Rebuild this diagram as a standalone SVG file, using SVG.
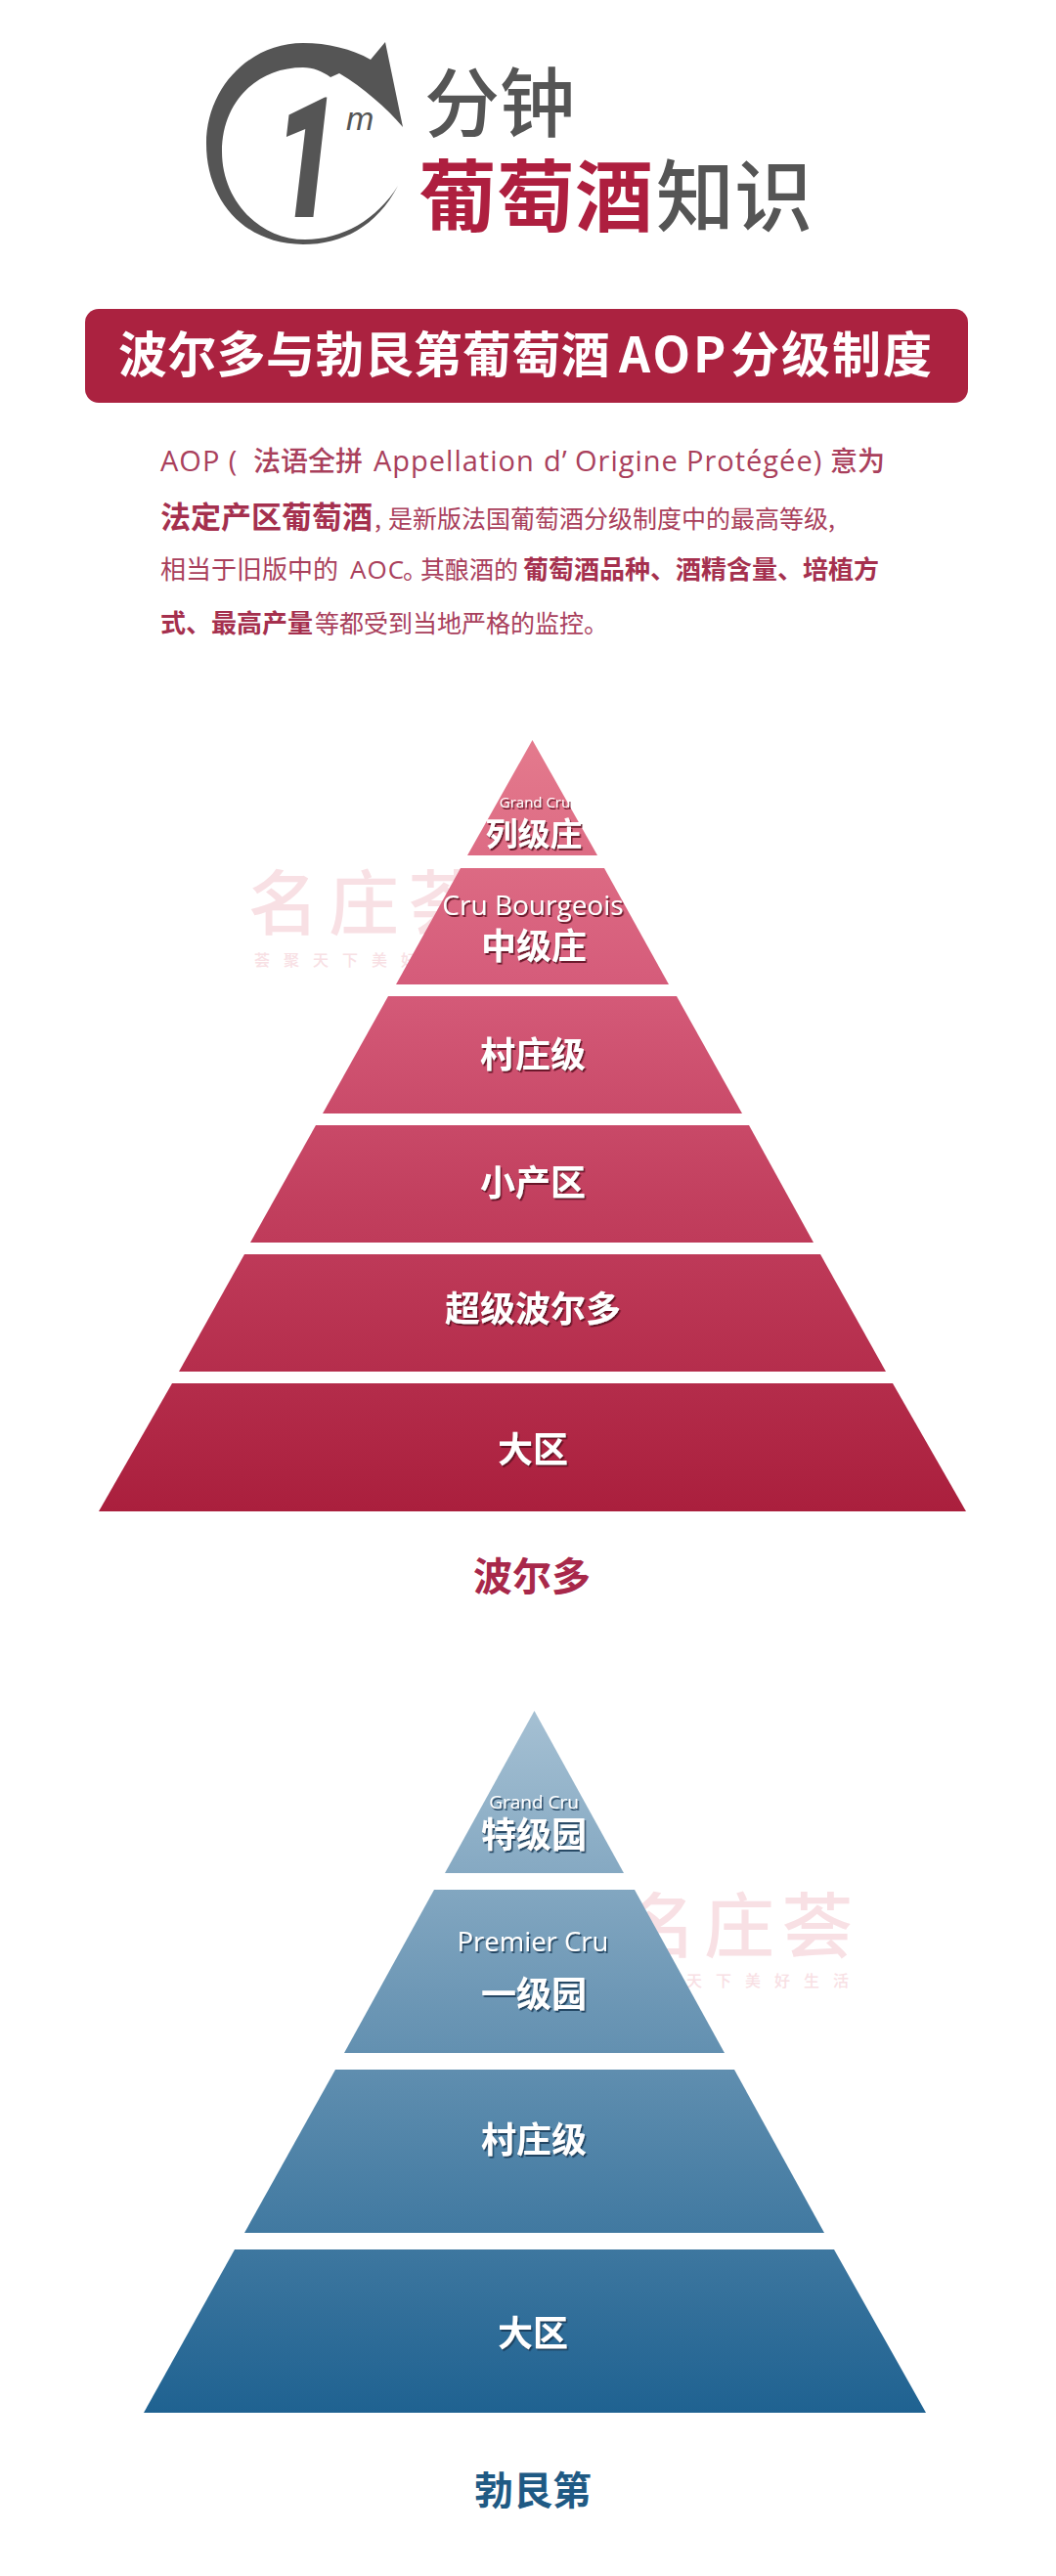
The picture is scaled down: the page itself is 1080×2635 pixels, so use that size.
<svg xmlns="http://www.w3.org/2000/svg" width="1080" height="2635" viewBox="0 0 1080 2635">
<defs>
<linearGradient id="red" gradientUnits="userSpaceOnUse" x1="0" y1="757" x2="0" y2="1546"><stop offset="0" stop-color="#e47a8d"/><stop offset="0.3" stop-color="#d65d7b"/><stop offset="0.6" stop-color="#c23f5e"/><stop offset="1" stop-color="#aa1f3d"/></linearGradient>
<linearGradient id="blue" gradientUnits="userSpaceOnUse" x1="0" y1="1750" x2="0" y2="2468"><stop offset="0" stop-color="#a5c0d3"/><stop offset="0.4" stop-color="#6e98b6"/><stop offset="1" stop-color="#1f6291"/></linearGradient>
<filter id="sr" x="-20%" y="-20%" width="140%" height="140%"><feDropShadow dx="1.5" dy="2" stdDeviation="0.6" flood-color="#5a0a20" flood-opacity="0.85"/></filter>
<filter id="sb" x="-20%" y="-20%" width="140%" height="140%"><feDropShadow dx="1.5" dy="2" stdDeviation="0.6" flood-color="#123a55" flood-opacity="0.85"/></filter>
</defs>
<style>
text{font-family:"Noto Sans CJK SC","Noto Sans",sans-serif}
.lab{fill:#fff;font-weight:700;text-anchor:middle}
.lab.lat{font-family:"Open Sans","Noto Sans CJK SC",sans-serif;font-weight:400}
.red .lab{filter:url(#sr)}
.blue .lab{filter:url(#sb)}
.wm{fill:#f8e0e4;text-anchor:start;font-weight:500}
.body{fill:#a9405c;font-size:25px}
.l{font-family:"Open Sans",sans-serif;font-size:29px;letter-spacing:1px;font-weight:500}
.s{font-family:"Open Sans",sans-serif;font-weight:500;letter-spacing:1px;font-size:26px}
.z{font-size:28px;font-weight:500}
.em{font-weight:700;fill:#a5304e}
.grey{fill:#555}
.r{fill:#ae1f3f;font-weight:700}
.red polygon{fill:url(#red)}
.blue polygon{fill:url(#blue)}
</style>
<rect width="1080" height="2635" fill="#fff"/>
<g id="logo">
<path fill="#555" d="M407 190C385 232 350 250 310 250C250 250 211 205 211 147C211 90 255 44 310 44C335 44 360 50 379 61L394 43L412 130C395 110 372 90 347 75L338 79C330 73 320 69 310 69C262 69 227 105 227 155C227 205 265 245 312 245C350 245 385 225 407 190Z"/>
<text transform="translate(280 222) scale(0.68 1)" font-size="172" font-weight="900" font-style="italic" class="grey" style="font-family:Roboto,sans-serif">1</text>
<text x="354" y="133" font-size="34" font-style="italic" class="grey" style="font-family:'Liberation Sans',sans-serif">m</text>
<text x="434" y="134" font-size="77" font-weight="500" class="grey">分钟</text>
<text x="428" y="230" font-size="80" class="r">葡萄酒</text>
<text x="671" y="230" font-size="80" font-weight="500" class="grey">知识</text>
</g>
<g id="banner">
<rect x="87" y="316" width="903" height="96" rx="14" fill="#ab2240"/>
<text y="381" font-size="50" font-weight="700" fill="#fff"><tspan x="121" letter-spacing="0.3">波尔多与勃艮第葡萄酒</tspan><tspan x="633" letter-spacing="3">AOP</tspan><tspan x="747" letter-spacing="2">分级制度</tspan></text>
</g>
<g id="intro">
<text class="body" y="482"><tspan class="l" x="164">AOP (</tspan><tspan class="z" x="259">法语全拼</tspan><tspan class="l" x="382">Appellation</tspan><tspan class="l" x="556">d’</tspan><tspan class="l" x="588">Origine</tspan><tspan class="l" x="702">Protégée)</tspan><tspan class="z" x="849">意为</tspan></text>
<text class="body" y="540"><tspan class="em" x="164" font-size="31">法定产区葡萄酒</tspan><tspan x="383">,</tspan><tspan x="397">是新版法国葡萄酒分级制度中的最高等级,</tspan></text>
<text class="body" y="592"><tspan x="164" font-size="26">相当于旧版中的</tspan><tspan class="s" x="358">AOC</tspan><tspan x="412">。</tspan><tspan x="430">其酿酒的</tspan><tspan class="em" x="535" font-size="26">葡萄酒品种、酒精含量、培植方</tspan></text>
<text class="body" y="647"><tspan class="em" x="164" font-size="26">式、最高产量</tspan><tspan x="322">等都受到当地严格的监控。</tspan></text>
</g>
<g id="watermark-1">
<text class="wm" x="254" y="950" font-size="72" letter-spacing="10">名庄荟</text>
<text class="wm" x="260" y="988" font-size="16" letter-spacing="14">荟聚天下美好生活</text>
</g>
<g id="watermark-2">
<text class="wm" x="640" y="1996" font-size="72" letter-spacing="8">名庄荟</text>
<text class="wm" x="642" y="2032" font-size="16" letter-spacing="14">荟聚天下美好生活</text>
</g>
<g id="bordeaux" class="red">
<g id="b1"><polygon points="544.5,757 611,875 478,875"/><text class="lab lat" x="547" y="826" font-size="15">Grand Cru</text><text class="lab" x="546" y="865" font-size="33">列级庄</text></g>
<g id="b2"><polygon points="471,888 618,888 684,1007 405,1007"/><text class="lab lat" x="545" y="936" font-size="28">Cru Bourgeois</text><text class="lab" x="546" y="981" font-size="36">中级庄</text></g>
<g id="b3"><polygon points="397,1019 692,1019 759,1139 330,1139"/><text class="lab" x="545" y="1092" font-size="36">村庄级</text></g>
<g id="b4"><polygon points="323,1151 766,1151 832,1271 256,1271"/><text class="lab" x="545" y="1223" font-size="36">小产区</text></g>
<g id="b5"><polygon points="250,1283 839,1283 906,1403 183,1403"/><text class="lab" x="545" y="1352" font-size="36">超级波尔多</text></g>
<g id="b6"><polygon points="176,1415 913,1415 988,1546 101,1546"/><text class="lab" x="545" y="1496" font-size="36">大区</text></g>
</g>
<text id="bordeaux-title" x="544" y="1627" font-size="40" font-weight="700" fill="#a8284a" text-anchor="middle">波尔多</text>
<g id="burgundy" class="blue">
<g id="c1"><polygon points="546.5,1750 638,1916 455,1916"/><text class="lab lat" x="546" y="1850" font-size="19">Grand Cru</text><text class="lab" x="546" y="1890" font-size="36">特级园</text></g>
<g id="c2"><polygon points="444,1933 649,1933 741,2100 352,2100"/><text class="lab lat" x="545" y="1996" font-size="27.5">Premier Cru</text><text class="lab" x="546" y="2053" font-size="36">一级园</text></g>
<g id="c3"><polygon points="343,2117 751,2117 843,2284 250,2284"/><text class="lab" x="546" y="2202" font-size="36">村庄级</text></g>
<g id="c4"><polygon points="240,2301 853,2301 947,2468 147,2468"/><text class="lab" x="545" y="2400" font-size="36">大区</text></g>
</g>
<text id="burgundy-title" x="545" y="2562" font-size="40" font-weight="700" fill="#1f5a84" text-anchor="middle">勃艮第</text>
</svg>
